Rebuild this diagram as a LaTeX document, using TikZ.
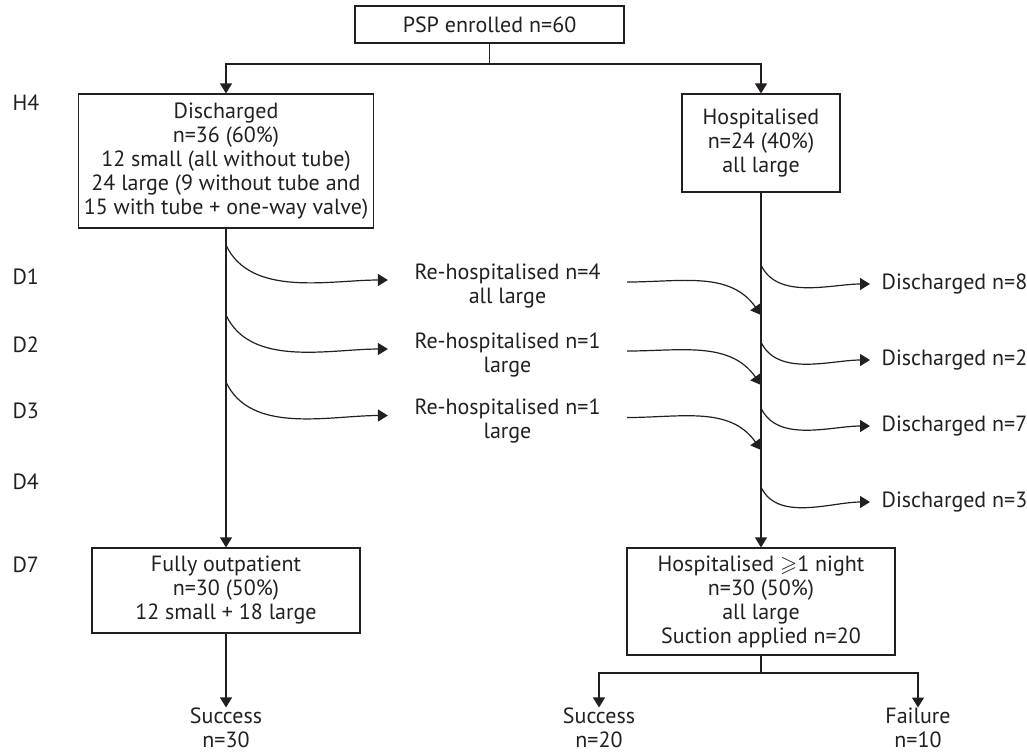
\documentclass[tikz,border=0pt]{standalone}
\usepackage{fontspec}
\setmainfont{PT Sans}
\usepackage{amssymb}
\usetikzlibrary{arrows.meta}

\definecolor{ink}{RGB}{35,31,32}

\begin{document}
\begin{tikzpicture}[x=0.5pt,y=-0.5pt,
    font=\fontsize{11}{12}\selectfont, color=ink, line width=0.6pt,
    box/.style={draw, align=center, inner sep=0pt},
    lbl/.style={align=center, inner sep=0pt},
    daylbl/.style={anchor=west, inner sep=0pt},
    arr/.style={-{Triangle[length=5pt,width=6pt]}}]
                \useasboundingbox (0,0) rectangle (1027,752);

                \node [box, minimum width=134.5pt, minimum height=18.5pt] (enrol) at (489.5,24.5) {PSP enrolled n=60};
                \node [box, minimum width=147.5pt, minimum height=67pt] (dis) at (226,161) {Discharged\\n=36 (60\%)\\12 small (all without tube)\\24 large (9 without tube and\\15 with tube + one-way valve)};
                \node [box, minimum width=79pt, minimum height=49pt] (hosp) at (761,143) {Hospitalised\\n=24 (40\%)\\all large};
                \node [box, minimum width=134pt, minimum height=42.5pt] (out) at (226,590.5) {Fully outpatient\\n=30 (50\%)\\12 small + 18 large};
                \node [box, minimum width=134pt, minimum height=53.5pt] (stay) at (761,601.5) {Hospitalised \ensuremath{\geqslant}1 night\\n=30 (50\%)\\all large\\Suction applied n=20};

                \node [daylbl] (h4) at (12,103) {H4};
                \node [daylbl] (day1) at (12,277) {D1};
                \node [daylbl] (day2) at (12,345) {D2};
                \node [daylbl] (day3) at (12,411) {D3};
                \node [daylbl] (day4) at (12,482) {D4};
                \node [daylbl] (day7) at (12,565) {D7};

                \node [lbl, inner xsep=13pt] (rehosp1) at (507.5,285.5) {Re-hospitalised n=4\\all large};
                \node [lbl, inner xsep=13pt] (rehosp2) at (507.5,354.5) {Re-hospitalised n=1\\large};
                \node [lbl, inner xsep=13pt] (rehosp3) at (507.5,421) {Re-hospitalised n=1\\large};

                \node [daylbl, inner xsep=5.5pt] (disch1) at (870,284) {Discharged n=8};
                \node [daylbl, inner xsep=5.5pt] (disch2) at (870,360) {Discharged n=2};
                \node [daylbl, inner xsep=5.5pt] (disch3) at (870,426) {Discharged n=7};
                \node [daylbl, inner xsep=5.5pt] (disch4) at (870,502) {Discharged n=3};

                \node [lbl] (succ1) at (226,728) {Success\\n=30};
                \node [lbl] (succ2) at (599,728) {Success\\n=20};
                \node [lbl] (fail) at (918,728) {Failure\\n=10};

                \coordinate (split) at (489.5,64);
                \coordinate (fork) at (761,673);

                \coordinate (left1) at (226,245);
                \coordinate (left2) at (226,315);
                \coordinate (left3) at (226,382);
                \coordinate (back1) at (761,315);
                \coordinate (back2) at (761,385);
                \coordinate (back3) at (761,450);
                \coordinate (right1) at (761,265);
                \coordinate (right2) at (761,342);
                \coordinate (right3) at (761,408);
                \coordinate (right4) at (761,487);

                \draw (enrol.south) -- (split);
                \draw [arr] (split) -| (dis.north);
                \draw [arr] (split) -| (hosp.north);

                \draw [arr] (dis.south) -- (out.north);
                \draw [arr] (hosp.south) -- (stay.north);

                \draw [arr] (left1) to [out=-65, in=180, looseness=0.9] ([yshift=2.75pt]rehosp1.west);
                \draw [arr] (left2) to [out=-65, in=180, looseness=0.9] ([yshift=2.75pt]rehosp2.west);
                \draw [arr] (left3) to [out=-65, in=180, looseness=0.9] ([yshift=2.75pt]rehosp3.west);

                \draw [arr] ([yshift=1.75pt]rehosp1.east) to [out=0, in=125] (back1);
                \draw [arr] ([yshift=1.75pt]rehosp2.east) to [out=0, in=125] (back2);
                \draw [arr] ([yshift=1.75pt]rehosp3.east) to [out=0, in=125] (back3);

                \draw [arr] (right1) to [out=-65, in=180, looseness=0.9] (disch1.west);
                \draw [arr] (right2) to [out=-65, in=180, looseness=0.9] (disch2.west);
                \draw [arr] (right3) to [out=-65, in=180, looseness=0.9] (disch3.west);
                \draw [arr] (right4) to [out=-65, in=180, looseness=0.9] (disch4.west);

                \draw [arr] (out.south) -- (succ1.north);
                \draw (stay.south) -- (fork);
                \draw [arr] (fork) -| (succ2.north);
                \draw [arr] (fork) -| (fail.north);
\end{tikzpicture}
\end{document}
